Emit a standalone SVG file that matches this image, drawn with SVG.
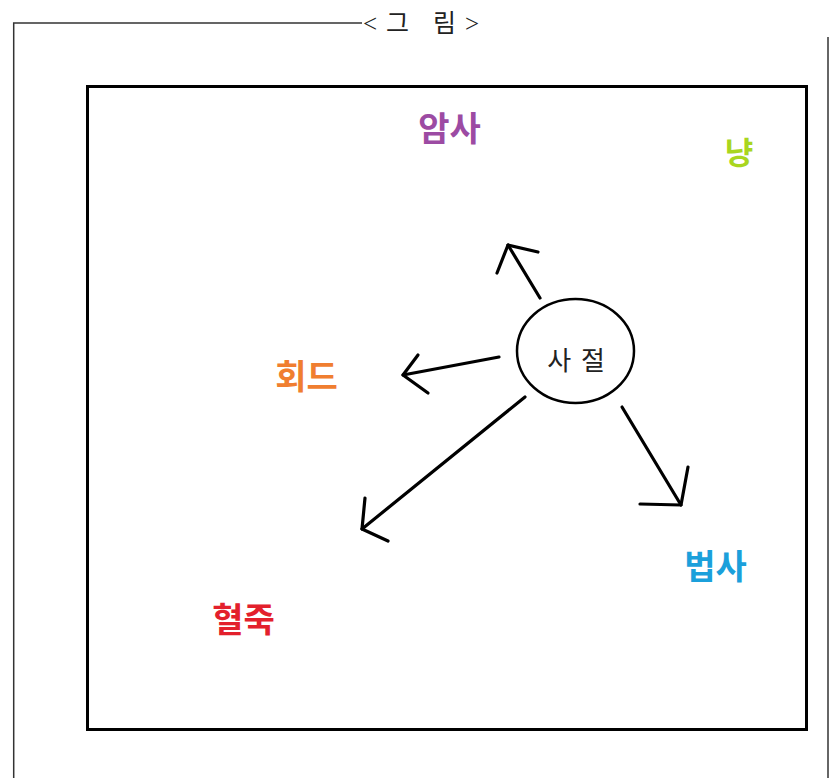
<svg xmlns="http://www.w3.org/2000/svg" width="831" height="778" viewBox="0 0 831 778">
<style>
.frame{fill:none;stroke:#333;stroke-width:1.5}
.box{fill:none;stroke:#000;stroke-width:3}
.lbl{font-family:"Noto Sans CJK KR","Noto Sans",sans-serif;font-weight:700;text-anchor:middle}
.arr{fill:none;stroke:#000;stroke-width:3.2;stroke-linecap:round;stroke-linejoin:round}
</style>
<rect width="831" height="778" fill="#fff"/>
<g id="frame">
<polyline class="frame" points="13.7,778 13.7,23 362,23"/>
<line class="frame" x1="828" y1="37" x2="828" y2="778"/>
<text x="363" y="32" font-family="'Liberation Serif','Noto Sans CJK KR',serif" font-size="25" fill="#222" textLength="116" lengthAdjust="spacing">&lt;그 림&gt;</text>
</g>
<g id="box">
<rect class="box" x="87.5" y="86.5" width="719" height="643"/>
</g>
<g id="center">
<ellipse cx="575.5" cy="351" rx="58.5" ry="52" fill="none" stroke="#000" stroke-width="2.5"/>
<text x="577" y="370" font-family="'Noto Sans CJK KR',sans-serif" font-size="26" fill="#222" text-anchor="middle" letter-spacing="2">사 절</text>
</g>
<g id="n-amsa"><text class="lbl" x="449.5" y="141" font-size="34" fill="#9c4ba3">암사</text></g>
<g id="n-nyang"><text class="lbl" x="739" y="164" font-size="31" fill="#a9d61f">냥</text></g>
<g id="n-hoede"><text class="lbl" x="306.5" y="389" font-size="34" fill="#f07e30">회드</text></g>
<g id="n-hyeoljuk"><text class="lbl" x="243.5" y="632" font-size="34" fill="#e3202c">혈죽</text></g>
<g id="n-beopsa"><text class="lbl" x="715.5" y="579" font-size="34" fill="#1ba0db">법사</text></g>
<g id="connectors">
<line class="arr" x1="540" y1="298" x2="508" y2="245"/>
<polyline class="arr" points="497,273 508,245 538,252"/>
<line class="arr" x1="499" y1="357" x2="403" y2="375"/>
<polyline class="arr" points="418,355 403,375 428,393"/>
<line class="arr" x1="525" y1="397" x2="362" y2="529"/>
<polyline class="arr" points="365,498 362,529 388,541"/>
<line class="arr" x1="622" y1="407" x2="681" y2="505"/>
<polyline class="arr" points="688,467 681,505 640,504"/>
</g>
</svg>
